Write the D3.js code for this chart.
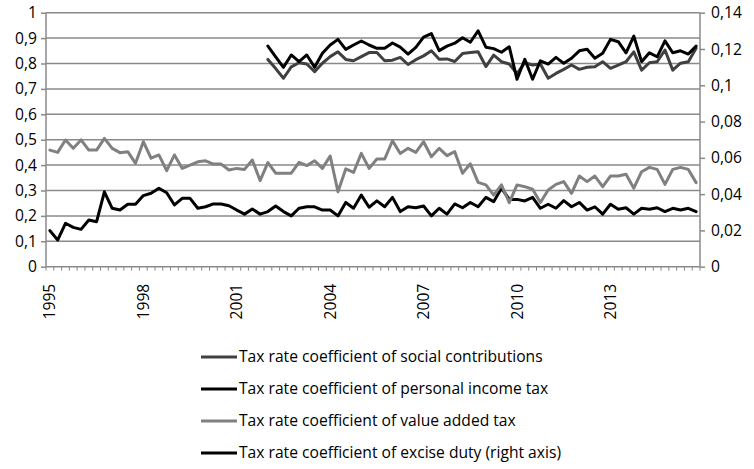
<!DOCTYPE html>
<html>
<head>
<meta charset="utf-8">
<script src="https://cdn.jsdelivr.net/npm/d3@7"></script>
<style>
  html, body { margin: 0; padding: 0; background: #ffffff; }
  svg { display: block; }
  text { font-family: "Open Sans", Lato, sans-serif; fill: #000; }
</style>
</head>
<body>
<svg id="chart" width="754" height="469"></svg>
<script>
// ---------------- DATA ----------------
const years = d3.range(1995, 2016);
const quarters = ["Q1", "Q2", "Q3", "Q4"];
const categories = years.flatMap(y => quarters.map(q => y + q)); // 1995Q1 .. 2015Q4

const xTickLabels = ["1995", "1998", "2001", "2004", "2007", "2010", "2013"];
const leftTicks = [0, 0.1, 0.2, 0.3, 0.4, 0.5, 0.6, 0.7, 0.8, 0.9, 1];
const rightTicks = [0, 0.02, 0.04, 0.06, 0.08, 0.1, 0.12, 0.14];

const seriesNames = [
  "Tax rate coefficient of social contributions",
  "Tax rate coefficient of personal income tax",
  "Tax rate coefficient of value added tax",
  "Tax rate coefficient of excise duty (right axis)"
];

// social contributions: from 2002Q1 (left axis)
const socialContrib = [
  null,null,null,null,null,null,null,null,null,null,null,null,null,null,
  null,null,null,null,null,null,null,null,null,null,null,null,null,null,
  0.816,0.780,0.742,0.787,0.803,0.798,0.768,0.801,0.827,0.846,0.816,0.811,0.827,
  0.843,0.843,0.811,0.813,0.824,0.796,0.815,0.830,0.850,0.817,0.818,0.808,0.839,
  0.843,0.846,0.788,0.833,0.807,0.798,0.760,0.803,0.794,0.798,0.742,0.761,0.777,
  0.794,0.777,0.785,0.787,0.807,0.781,0.794,0.807,0.846,0.774,0.803,0.807,0.853,
  0.774,0.801,0.807,0.860
];

// personal income tax (left axis)
const personalIncome = [
  0.142,0.105,0.171,0.155,0.147,0.184,0.177,0.295,0.230,0.223,0.246,0.246,0.280,0.289,
  0.309,0.291,0.243,0.269,0.269,0.230,0.236,0.247,0.247,0.240,0.223,0.207,0.227,0.207,
  0.217,0.239,0.217,0.200,0.230,0.236,0.236,0.223,0.223,0.200,0.253,0.230,0.282,0.234,
  0.259,0.236,0.273,0.217,0.236,0.232,0.239,0.200,0.230,0.207,0.247,0.232,0.253,0.236,
  0.273,0.256,0.309,0.265,0.265,0.259,0.273,0.230,0.246,0.230,0.260,0.236,0.253,0.223,
  0.236,0.207,0.246,0.226,0.232,0.207,0.230,0.226,0.232,0.217,0.230,0.223,0.230,0.217
];

// value added tax (left axis)
const valueAdded = [
  0.459,0.450,0.499,0.466,0.499,0.459,0.459,0.505,0.466,0.449,0.453,0.407,0.492,0.427,
  0.440,0.378,0.440,0.387,0.400,0.413,0.417,0.404,0.404,0.381,0.387,0.383,0.420,0.339,
  0.410,0.368,0.368,0.368,0.411,0.398,0.417,0.387,0.436,0.295,0.385,0.371,0.446,0.387,
  0.424,0.424,0.496,0.446,0.466,0.450,0.492,0.433,0.466,0.437,0.453,0.368,0.405,0.332,
  0.322,0.282,0.322,0.252,0.322,0.315,0.305,0.253,0.302,0.324,0.335,0.289,0.357,0.335,
  0.357,0.315,0.357,0.357,0.364,0.309,0.374,0.391,0.383,0.324,0.383,0.391,0.383,0.331
];

// excise duty: from 2002Q1 (right axis)
const exciseDuty = [
  null,null,null,null,null,null,null,null,null,null,null,null,null,null,
  null,null,null,null,null,null,null,null,null,null,null,null,null,null,
  0.1216,0.1157,0.1099,0.1167,0.1130,0.1167,0.1099,0.1176,0.1222,0.1253,0.1198,0.1222,0.1244,
  0.1222,0.1204,0.1204,0.1233,0.1210,0.1172,0.1209,0.1265,0.1285,0.1191,0.1216,0.1232,0.1262,
  0.1237,0.1300,0.1210,0.1202,0.1182,0.1212,0.1033,0.1143,0.1033,0.1135,0.1117,0.1154,0.1121,
  0.1149,0.1190,0.1198,0.1149,0.1176,0.1253,0.1240,0.1179,0.1271,0.1130,0.1179,0.1157,0.1245,
  0.1179,0.1190,0.1172,0.1216
];

const seriesColors = ["#404040", "#000000", "#808080", "#000000"];

// ---------------- CHART ----------------
const svg = d3.select("#chart");
const plot = { left: 46, right: 700, top: 12.7, bottom: 266.7 };
const gridColor = "#8a8a8a";

// font size chosen so the legend text width matches the reference (~304px for first entry)
const probe = svg.append("text").attr("font-size", 14).text(seriesNames[0]);
const probeW = probe.node().getComputedTextLength();
probe.remove();
const FS = Math.max(12, Math.min(17, 14 * 304 / probeW));

const x = d3.scaleBand().domain(categories).range([plot.left, plot.right]).padding(0);
const xc = c => x(c) + x.bandwidth() / 2;
const yL = d3.scaleLinear().domain([0, 1]).range([plot.bottom, plot.top]);
const yR = d3.scaleLinear().domain([0, 0.14]).range([plot.bottom, plot.top]);

const loc = d3.formatLocale({ decimal: ",", thousands: ".", grouping: [3], currency: ["", ""] });
const fmt = loc.format("~r");

// gridlines (left axis)
svg.append("g").selectAll("line")
  .data(leftTicks.filter(v => v > 0))
  .join("line")
  .attr("x1", plot.left).attr("x2", plot.right)
  .attr("y1", d => yL(d)).attr("y2", d => yL(d))
  .attr("stroke", gridColor).attr("stroke-width", 1.5);

// left axis
const gL = svg.append("g").attr("transform", `translate(${plot.left},0)`)
  .call(d3.axisLeft(yL).tickValues(leftTicks).tickSize(5).tickPadding(4).tickFormat(d => fmt(+d.toFixed(2))));
gL.select(".domain").attr("stroke", gridColor).attr("stroke-width", 1.5).attr("d", `M0,${plot.top}V${plot.bottom}`);
gL.selectAll(".tick line").attr("stroke", gridColor).attr("stroke-width", 1.5);
gL.selectAll(".tick text").attr("font-size", FS).attr("font-family", null).attr("fill", "#000");

// right axis
const gR = svg.append("g").attr("transform", `translate(${plot.right},0)`)
  .call(d3.axisRight(yR).tickValues(rightTicks).tickSize(5).tickPadding(6).tickFormat(d => fmt(+d.toFixed(2))));
gR.select(".domain").attr("stroke", gridColor).attr("stroke-width", 1.5).attr("d", `M0,${plot.top}V${plot.bottom}`);
gR.selectAll(".tick line").attr("stroke", gridColor).attr("stroke-width", 1.5);
gR.selectAll(".tick text").attr("font-size", FS).attr("font-family", null).attr("fill", "#000");
gL.attr("font-family", null);
gR.attr("font-family", null);

// bottom axis line
svg.append("line")
  .attr("x1", plot.left).attr("x2", plot.right)
  .attr("y1", plot.bottom).attr("y2", plot.bottom)
  .attr("stroke", gridColor).attr("stroke-width", 1.5);

// category tick marks at band boundaries
const edges = categories.map(c => x(c)).concat([plot.right]);
svg.append("g").selectAll("line")
  .data(edges)
  .join("line")
  .attr("x1", d => d).attr("x2", d => d)
  .attr("y1", plot.bottom).attr("y2", plot.bottom + 4)
  .attr("stroke", gridColor).attr("stroke-width", 1);

// x labels, rotated
svg.append("g").selectAll("text")
  .data(xTickLabels)
  .join("text")
  .attr("transform", d => `translate(${xc(d + "Q1")},${plot.bottom + 17}) rotate(-90)`)
  .attr("text-anchor", "end")
  .attr("dy", "0.35em")
  .attr("font-size", FS)
  .text(d => d);

// lines
const seriesData = [
  { name: seriesNames[0], values: socialContrib, scale: yL, color: seriesColors[0] },
  { name: seriesNames[1], values: personalIncome, scale: yL, color: seriesColors[1] },
  { name: seriesNames[2], values: valueAdded, scale: yL, color: seriesColors[2] },
  { name: seriesNames[3], values: exciseDuty, scale: yR, color: seriesColors[3] }
];

seriesData.forEach(s => {
  const line = d3.line()
    .defined(d => d.v !== null)
    .x(d => xc(d.c))
    .y(d => s.scale(d.v));
  svg.append("path")
    .datum(categories.map((c, i) => ({ c, v: s.values[i] })))
    .attr("d", line)
    .attr("fill", "none")
    .attr("stroke", s.color)
    .attr("stroke-width", 3)
    .attr("stroke-linejoin", "round")
    .attr("stroke-linecap", "round");
});

// legend
const legend = svg.append("g");
const legendY0 = 357, legendStep = 32;
seriesData.forEach((s, i) => {
  const y = legendY0 + i * legendStep;
  legend.append("line")
    .attr("x1", 201).attr("x2", 237)
    .attr("y1", y).attr("y2", y)
    .attr("stroke", s.color).attr("stroke-width", 3);
  legend.append("text")
    .attr("x", 239).attr("y", y)
    .attr("dy", "0.35em")
    .attr("font-size", FS)
    .text(s.name);
});
</script>
</body>
</html>
